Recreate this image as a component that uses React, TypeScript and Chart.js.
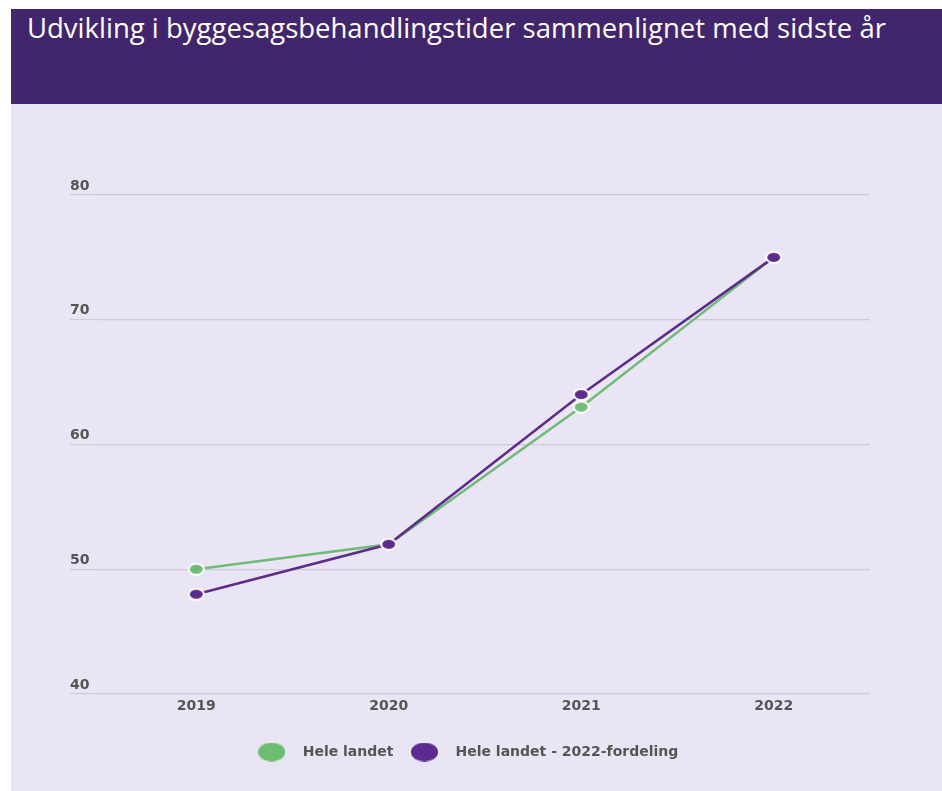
import React, { useEffect, useRef } from "react";
import { Chart, registerables } from "chart.js";

Chart.register(...registerables);

const TITLE = "Udvikling i byggesagsbehandlingstider sammenlignet med sidste år";
const categories = ["2019", "2020", "2021", "2022"];
const seriesNames = ["Hele landet", "Hele landet - 2022-fordeling"];
const heleLandet = [50, 52, 63, 75];
const heleLandet2022 = [48, 52, 64, 75];
const yTicks = [40, 50, 60, 70, 80];

const GREEN = "#6dbd72";
const PURPLE = "#5c2b8f";

function ellipseImage(w: number, h: number, fill: string, ring: number) {
  const c = document.createElement("canvas");
  c.width = w;
  c.height = h;
  const ctx = c.getContext("2d")!;
  if (ring > 0) {
    ctx.fillStyle = "#ffffff";
    ctx.beginPath();
    ctx.ellipse(w / 2, h / 2, w / 2, h / 2, 0, 0, Math.PI * 2);
    ctx.fill();
  }
  ctx.fillStyle = fill;
  ctx.beginPath();
  ctx.ellipse(w / 2, h / 2, w / 2 - ring, h / 2 - ring, 0, 0, Math.PI * 2);
  ctx.fill();
  return c;
}

export default function App() {
  const ref = useRef<HTMLCanvasElement | null>(null);

  useEffect(() => {
    document.body.style.margin = "0";
    const canvas = ref.current!;
    const gPt = ellipseImage(17, 13, GREEN, 2);
    const pPt = ellipseImage(17, 13, PURPLE, 2);
    const gLeg = ellipseImage(27, 19, GREEN, 0);
    const pLeg = ellipseImage(27, 19, PURPLE, 0);
    const legendImgs = [gLeg, pLeg];
    const font = { family: "'DejaVu Sans', sans-serif", size: 14, weight: "bold" as const };
    const chart = new Chart(canvas, {
      type: "line",
      data: {
        labels: categories,
        datasets: [
          {
            label: seriesNames[0],
            data: heleLandet,
            borderColor: GREEN,
            backgroundColor: GREEN,
            borderWidth: 2.5,
            pointStyle: gPt as any,
            pointRadius: 6,
            order: 1,
          },
          {
            label: seriesNames[1],
            data: heleLandet2022,
            borderColor: PURPLE,
            backgroundColor: PURPLE,
            borderWidth: 2.5,
            pointStyle: pPt as any,
            pointRadius: 6,
            order: 0,
          },
        ],
      },
      options: {
        animation: false,
        responsive: false,
        devicePixelRatio: 1,
        layout: { padding: { top: 91, bottom: 22, left: 45, right: 72 } },
        plugins: {
          tooltip: { enabled: false },
          legend: {
            position: "bottom",
            labels: {
              usePointStyle: true,
              pointStyleWidth: 48,
              padding: 7,
              color: "#555555",
              font,
              sort: (a: any, b: any) => a.datasetIndex - b.datasetIndex,
              generateLabels: (ch: any) => {
                const items = Chart.defaults.plugins.legend.labels.generateLabels(ch);
                return items.map((it: any) => ({ ...it, pointStyle: legendImgs[it.datasetIndex] }));
              },
            },
          },
        },
        scales: {
          x: {
            offset: true,
            grid: { display: false, drawTicks: false },
            border: { display: false },
            ticks: { color: "#555555", font, padding: 4 },
            afterFit: (s: any) => {
              s.height = 44;
            },
          },
          y: {
            min: yTicks[0],
            max: yTicks[yTicks.length - 1],
            grid: { color: "#cfcad9", lineWidth: 1.2, drawTicks: true, tickLength: 30 },
            border: { display: false },
            afterBuildTicks: (s: any) => {
              s.ticks = yTicks.map((v) => ({ value: v }));
            },
            ticks: {
              mirror: true,
              padding: -30,
              labelOffset: -9,
              color: "#555555",
              font,
            },
            afterFit: (s: any) => {
              s.width = 44;
            },
          },
        },
      },
    });
    return () => chart.destroy();
  }, []);

  return (
    <div style={{ position: "absolute", left: 11, top: 9, width: 931, height: 782 }}>
      <div
        style={{
          position: "absolute",
          left: 0,
          top: 0,
          width: 931,
          height: 95,
          background: "#42266d",
        }}
      >
        <div
          style={{
            position: "absolute",
            left: 16,
            top: 5,
            color: "#ffffff",
            fontFamily: "'Open Sans', sans-serif",
            fontSize: 27.5,
            lineHeight: "27.5px",
            whiteSpace: "nowrap",
          }}
        >
          {TITLE}
        </div>
      </div>
      <div
        style={{
          position: "absolute",
          left: 0,
          top: 95,
          width: 931,
          height: 687,
          background: "#e9e5f4",
        }}
      >
        <canvas ref={ref} width={931} height={687} style={{ display: "block", width: 931, height: 687 }} />
      </div>
    </div>
  );
}
